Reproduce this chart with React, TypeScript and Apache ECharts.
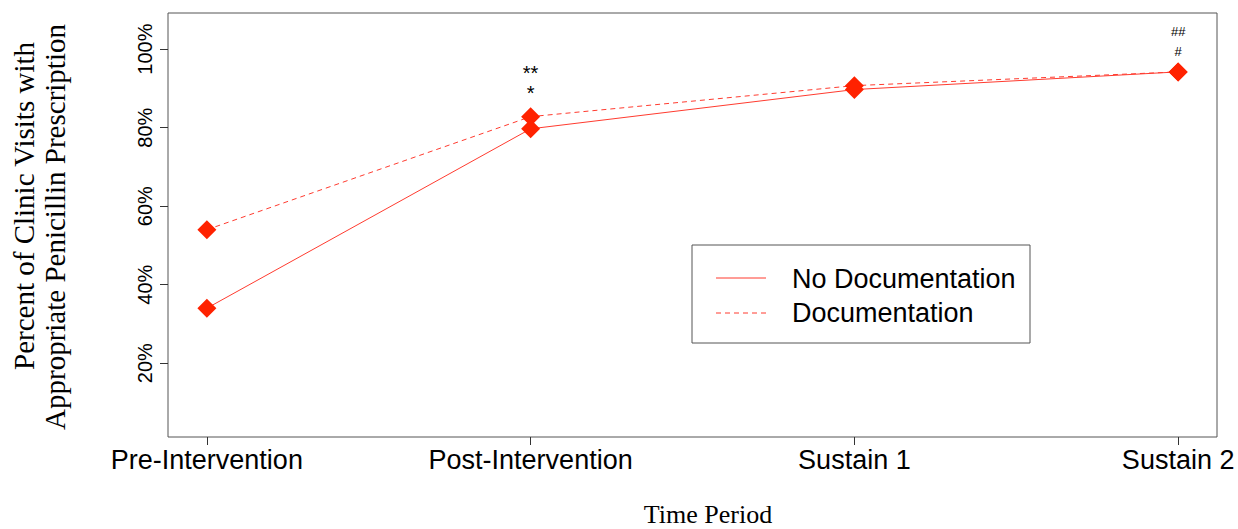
import React, { useEffect, useRef } from "react";
import * as echarts from "echarts";

const categories = ["Pre-Intervention", "Post-Intervention", "Sustain 1", "Sustain 2"];
const noDocumentation = [34.0, 79.7, 89.7, 94.2];
const documentation = [54.0, 82.8, 90.7, 94.2];
const yTicks = [20, 40, 60, 80, 100];
const annotations = [
  { text: "**", x: 2, y: 93.9, size: 20 },
  { text: "*", x: 2, y: 88.7, size: 20 },
  { text: "##", x: 4, y: 104.4, size: 13 },
  { text: "#", x: 4, y: 99.4, size: 13 },
];

const RED_MARK = "#FF2200";
const RED_LINE = "#FF3B2F";
const SERIF = '"Liberation Serif", "Times New Roman", serif';
const SANS = '"Liberation Sans", Arial, sans-serif';

export default function App() {
  const ref = useRef<HTMLDivElement>(null);
  useEffect(() => {
    document.body.style.margin = "0";
    if (!ref.current) return;
    const chart = echarts.init(ref.current, null, { renderer: "svg" });
    const toPts = (arr: number[]) => arr.map((v, i) => [i + 1, v]);
    chart.setOption({
      animation: false,
      backgroundColor: "#fff",
      grid: {
        left: 168,
        right: 21,
        top: 13,
        bottom: 92,
        show: true,
        borderColor: "#555",
        borderWidth: 1,
        containLabel: false,
      },
      xAxis: {
        type: "value",
        min: 0.88,
        max: 4.12,
        axisLine: { show: false },
        splitLine: { show: false },
        axisTick: {
          show: true,
          customValues: [1, 2, 3, 4],
          length: 8,
          inside: false,
          lineStyle: { color: "#333", width: 1 },
        },
        axisLabel: {
          customValues: [1, 2, 3, 4],
          formatter: (v: number) => categories[Math.round(v) - 1] ?? "",
          fontFamily: SANS,
          fontSize: 27,
          color: "#000",
          margin: 9,
        },
      },
      yAxis: {
        type: "value",
        min: 1.2,
        max: 109.2,
        axisLine: { show: false },
        splitLine: { show: false },
        axisTick: {
          show: true,
          customValues: yTicks,
          length: 8,
          lineStyle: { color: "#333", width: 1 },
        },
        axisLabel: {
          customValues: yTicks,
          formatter: (v: number) => `${v}%`,
          rotate: 90,
          fontFamily: SANS,
          fontSize: 20,
          color: "#000",
          margin: 13,
        },
      },
      series: [
        {
          name: "No Documentation",
          type: "line",
          data: toPts(noDocumentation),
          symbol: "diamond",
          symbolSize: 19,
          lineStyle: { color: RED_LINE, width: 1, type: "solid" },
          itemStyle: { color: RED_MARK },
          z: 3,
          markPoint: {
            symbol: "circle",
            symbolSize: 0,
            data: annotations.map((a) => ({
              name: a.text,
              coord: [a.x, a.y],
              label: {
                show: true,
                formatter: a.text,
                position: "inside",
                color: "#000",
                fontSize: a.size,
                fontFamily: SANS,
              },
            })),
          },
        },
        {
          name: "Documentation",
          type: "line",
          data: toPts(documentation),
          symbol: "diamond",
          symbolSize: 19,
          lineStyle: { color: RED_LINE, width: 1, type: [5, 4] },
          itemStyle: { color: RED_MARK },
          z: 2,
        },
      ],
      graphic: [
        {
          type: "text",
          x: 24,
          y: 206,
          rotation: Math.PI / 2,
          style: {
            text: "Percent of Clinic Visits with",
            font: `29px ${SERIF}`,
            fill: "#000",
            align: "center",
            verticalAlign: "middle",
          },
        },
        {
          type: "text",
          x: 55,
          y: 227,
          rotation: Math.PI / 2,
          style: {
            text: "Appropriate Penicillin Prescription",
            font: `29px ${SERIF}`,
            fill: "#000",
            align: "center",
            verticalAlign: "middle",
          },
        },
        {
          type: "text",
          x: 708,
          y: 514,
          style: {
            text: "Time Period",
            font: `26px ${SERIF}`,
            fill: "#000",
            align: "center",
            verticalAlign: "middle",
          },
        },
        {
          type: "rect",
          shape: { x: 692, y: 245, width: 338, height: 98 },
          style: { fill: "#fff", stroke: "#555", lineWidth: 1 },
          z: 10,
        },
        {
          type: "line",
          shape: { x1: 716, y1: 278, x2: 766, y2: 278 },
          style: { stroke: RED_LINE, lineWidth: 1 },
          z: 11,
        },
        {
          type: "line",
          shape: { x1: 716, y1: 313, x2: 766, y2: 313 },
          style: { stroke: RED_LINE, lineWidth: 1, lineDash: [5, 4] },
          z: 11,
        },
        {
          type: "text",
          x: 792,
          y: 279,
          style: {
            text: "No Documentation",
            font: `27px ${SANS}`,
            fill: "#000",
            align: "left",
            verticalAlign: "middle",
          },
          z: 11,
        },
        {
          type: "text",
          x: 792,
          y: 313,
          style: {
            text: "Documentation",
            font: `27px ${SANS}`,
            fill: "#000",
            align: "left",
            verticalAlign: "middle",
          },
          z: 11,
        },
      ],
    });
    return () => chart.dispose();
  }, []);
  return <div ref={ref} style={{ width: 1238, height: 529 }} />;
}
